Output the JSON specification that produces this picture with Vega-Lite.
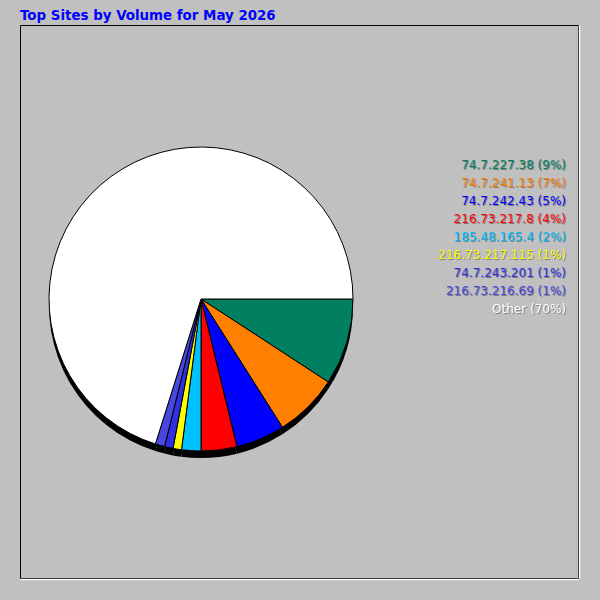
{
  "$schema": "https://vega.github.io/schema/vega-lite/v6.json",
  "description": "Top sites by volume pie",
  "width": 558,
  "height": 553,
  "autosize": {"type": "none"},
  "padding": {"left": 20, "top": 25, "right": 22, "bottom": 22},
  "background": "#c0c0c0",
  "config": {
    "font": "DejaVu Sans",
    "view": {"stroke": "#000000", "strokeWidth": 1, "fill": "#c0c0c0"},
    "axis": {"ticks": false, "labels": false, "grid": false, "domainColor": "#ffffff", "domainWidth": 1.5}
  },
  "title": {
    "text": "Top Sites by Volume for May 2026",
    "anchor": "start",
    "frame": "group",
    "offset": 3,
    "color": "#0000ff",
    "font": "DejaVu Sans",
    "fontSize": 13.4,
    "fontWeight": "bold"
  },
  "data": {
    "values": [
      {"row": 1, "site": "74.7.227.38", "share": 9.2, "legend": "74.7.227.38 (9%)"},
      {"row": 2, "site": "74.7.241.13", "share": 6.8, "legend": "74.7.241.13 (7%)"},
      {"row": 3, "site": "74.7.242.43", "share": 5.2, "legend": "74.7.242.43 (5%)"},
      {"row": 4, "site": "216.73.217.8", "share": 3.8, "legend": "216.73.217.8 (4%)"},
      {"row": 5, "site": "185.48.165.4", "share": 2.05, "legend": "185.48.165.4 (2%)"},
      {"row": 6, "site": "216.73.217.115", "share": 0.9, "legend": "216.73.217.115 (1%)"},
      {"row": 7, "site": "74.7.243.201", "share": 0.9, "legend": "74.7.243.201 (1%)"},
      {"row": 8, "site": "216.73.216.69", "share": 1.0, "legend": "216.73.216.69 (1%)"},
      {"row": 9, "site": "Other", "share": 70.15, "legend": "Other (70%)"}
    ]
  },
  "layer": [
    {
      "mark": {"type": "arc", "outerRadius": 152, "fill": "#000000", "xOffset": -98, "yOffset": 4.5},
      "encoding": {
        "theta": {"field": "share", "type": "quantitative", "stack": true, "scale": {"range": [1.5708, 7.854]}},
        "order": {"field": "row", "type": "quantitative"}
      }
    },
    {
      "mark": {"type": "arc", "outerRadius": 152, "stroke": "#000000", "strokeWidth": 1, "xOffset": -98, "yOffset": -2.5},
      "encoding": {
        "theta": {"field": "share", "type": "quantitative", "stack": true, "scale": {"range": [1.5708, 7.854]}},
        "order": {"field": "row", "type": "quantitative"},
        "color": {
          "field": "site",
          "type": "nominal",
          "legend": null,
          "scale": {
            "domain": ["74.7.227.38", "74.7.241.13", "74.7.242.43", "216.73.217.8", "185.48.165.4", "216.73.217.115", "74.7.243.201", "216.73.216.69", "Other"],
            "range": ["#008060", "#ff8000", "#0000ff", "#ff0000", "#00c0ff", "#ffff00", "#3030e0", "#4848e0", "#ffffff"]
          }
        }
      }
    },
    {
      "mark": {"type": "text", "align": "right", "baseline": "middle", "fontSize": 12, "dx": 1, "dy": 1, "color": "#7f7f7f"},
      "encoding": {
        "x": {"datum": 1, "type": "quantitative", "scale": {"domain": [0, 1.022], "nice": false, "zero": false}, "axis": {"orient": "bottom", "offset": 1, "title": null}},
        "y": {"field": "row", "type": "quantitative", "scale": {"domain": [-6.7778, 23.9444], "reverse": true, "nice": false, "zero": false}, "axis": {"orient": "right", "offset": 1, "title": null}},
        "text": {"field": "legend"}
      }
    },
    {
      "mark": {"type": "text", "align": "right", "baseline": "middle", "fontSize": 12},
      "encoding": {
        "x": {"datum": 1, "type": "quantitative"},
        "y": {"field": "row", "type": "quantitative"},
        "text": {"field": "legend"},
        "color": {"field": "site", "type": "nominal", "legend": null}
      }
    }
  ]
}
